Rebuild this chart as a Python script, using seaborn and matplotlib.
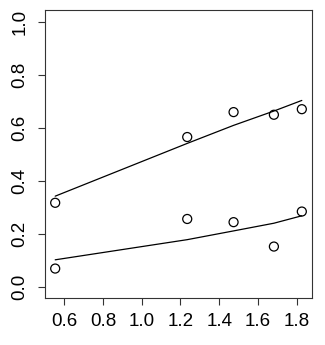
import matplotlib
matplotlib.use("Agg")
import matplotlib.pyplot as plt
import seaborn as sns
import pandas as pd

x = [0.554, 1.235, 1.474, 1.682, 1.826]
upper_obs = [0.318, 0.566, 0.660, 0.650, 0.671]
lower_obs = [0.070, 0.257, 0.245, 0.153, 0.285]
upper_fit = [0.343, 0.542, 0.610, 0.664, 0.704]
lower_fit = [0.103, 0.179, 0.212, 0.241, 0.269]
xticks = [0.6, 0.8, 1.0, 1.2, 1.4, 1.6, 1.8]
yticks = [0.0, 0.2, 0.4, 0.6, 0.8, 1.0]

sns.set_style("white")
plt.rcParams['font.family'] = ['Liberation Sans', 'DejaVu Sans']
plt.rcParams['text.color'] = 'black'
plt.rcParams['xtick.color'] = 'black'
plt.rcParams['ytick.color'] = 'black'

fig = plt.figure(figsize=(3.25, 3.45), dpi=100)
ax = fig.add_axes([0.1394, 0.137, 0.8197, 0.834])

obs = pd.DataFrame({"x": x + x, "y": upper_obs + lower_obs})
sns.scatterplot(data=obs, x="x", y="y", ax=ax, marker="o", s=42,
                facecolor="none", edgecolor="black", linewidth=0.9)
sns.lineplot(x=x, y=upper_fit, ax=ax, color="black", linewidth=0.9)
sns.lineplot(x=x, y=lower_fit, ax=ax, color="black", linewidth=0.9)

ax.set_xlim(0.503, 1.877)
ax.set_ylim(-0.04, 1.045)
ax.set_xticks(xticks)
ax.set_yticks(yticks)
ax.set_xticklabels([f"{v:.1f}" for v in xticks])
ax.set_yticklabels([f"{v:.1f}" for v in yticks])
ax.set_xlabel("")
ax.set_ylabel("")
for s in ax.spines.values():
    s.set_visible(True)
    s.set_color("#333333")
    s.set_linewidth(0.8)
ax.tick_params(axis="both", direction="out", length=5, width=0.8,
               color="#333333", labelcolor="black", labelsize=13.5,
               bottom=True, left=True)
ax.tick_params(axis="x", pad=6)
ax.tick_params(axis="y", pad=7)
for lab in ax.get_yticklabels():
    lab.set_rotation(90)
    lab.set_va("center")

fig.savefig("out.png", dpi=100)
